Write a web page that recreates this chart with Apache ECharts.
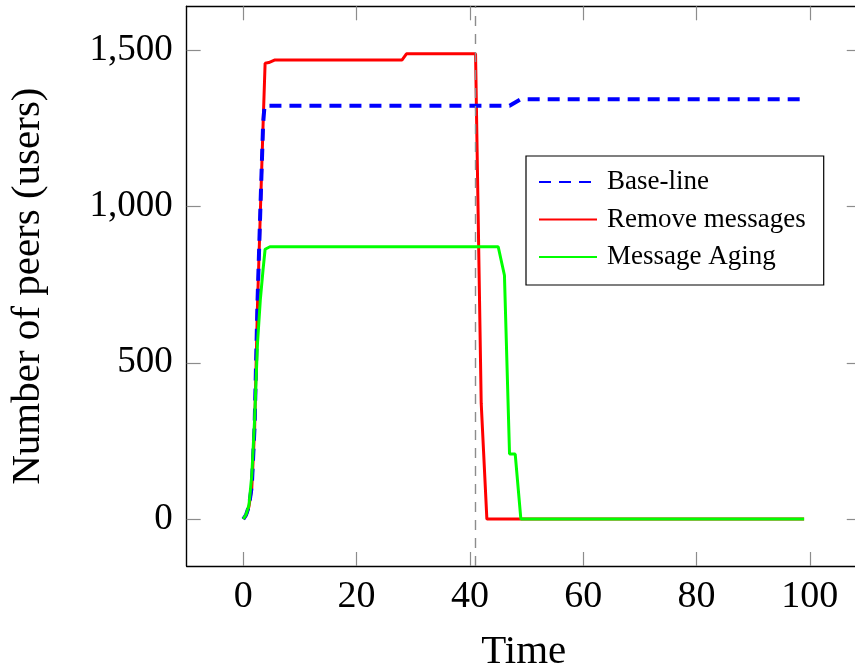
<!DOCTYPE html>
<html>
<head>
<meta charset="utf-8">
<script src="https://cdn.jsdelivr.net/npm/echarts@6/dist/echarts.min.js"></script>
<style>
  html, body { margin: 0; padding: 0; background: #fff; overflow: hidden; }
  #chart { width: 855px; height: 670px; }
</style>
</head>
<body>
<div id="chart"></div>
<script>
// Peer counts over time for three message-handling strategies
const baseTime   = [0, 0.5, 1, 1.5, 2, 2.5, 3, 3.5, 3.75, 47, 49, 99];
const baseValue  = [0, 14, 42, 105, 300, 690, 985, 1265, 1322, 1322, 1343, 1343];

const removeTime  = [0, 0.5, 1, 1.5, 2, 2.5, 3, 3.5, 3.85, 4.5, 5.5, 28, 28.8, 41, 42, 43, 99];
const removeValue = [0, 12, 40, 100, 290, 680, 975, 1265, 1458, 1460, 1468, 1468, 1488, 1488, 370, 0, 0];

const agingTime  = [0, 0.5, 1, 1.5, 2, 2.5, 3, 3.5, 3.85, 4.7, 45, 46.1, 47, 48, 49, 99];
const agingValue = [0, 15, 45, 140, 320, 560, 700, 800, 863, 871, 871, 780, 208, 208, 0, 0];

const seriesNames = ['Base-line', 'Remove messages', 'Message Aging'];
const xTicks = [0, 20, 40, 60, 80, 100];
const yTicks = [0, 500, 1000, 1500];
const cutoffTime = 41;

const pairs = (xs, ys) => xs.map((x, i) => [x, ys[i]]);

const FONT = "'Liberation Serif', 'Times New Roman', serif";
const tickStyle = { show: true, inside: true, length: 14, lineStyle: { color: '#8c8c8c', width: 1.2 } };
const frameLine = { show: true, onZero: false, lineStyle: { color: '#000', width: 1.4 } };

const chart = echarts.init(document.getElementById('chart'), null, { renderer: 'canvas' });

chart.setOption({
  animation: false,
  backgroundColor: '#fff',
  // the plot box runs a few pixels past the right edge of the canvas
  grid: {
    left: 186.65, width: 674.1, top: 6.3, height: 559.7,
    containLabel: false, outerBoundsMode: 'none'
  },
  legend: {
    orient: 'vertical',
    left: 526,
    top: 156,
    data: seriesNames,
    itemWidth: 58,
    itemHeight: 27,
    itemGap: 10.5,
    padding: [12.5, 18, 14.5, 12],
    borderColor: '#000',
    borderWidth: 1.2,
    backgroundColor: '#fff',
    itemStyle: { opacity: 0 },
    textStyle: { fontFamily: FONT, fontSize: 27, color: '#000', lineHeight: 27, padding: [0, 0, 0, 5] }
  },
  xAxis: [
    {
      type: 'value', min: -10, max: 109, position: 'bottom',
      name: 'Time', nameLocation: 'middle', nameGap: 66,
      nameTextStyle: { fontFamily: FONT, fontSize: 41, color: '#000' },
      axisLine: frameLine,
      axisTick: Object.assign({ customValues: xTicks }, tickStyle),
      axisLabel: { customValues: xTicks, margin: 12, fontFamily: FONT, fontSize: 38, color: '#000' },
      splitLine: { show: false }
    },
    {
      type: 'value', min: -10, max: 109, position: 'top',
      axisLine: frameLine,
      axisTick: Object.assign({ customValues: xTicks }, tickStyle),
      axisLabel: { show: false },
      splitLine: { show: false }
    }
  ],
  yAxis: [
    {
      type: 'value', min: -150, max: 1640, position: 'left',
      name: 'Number of peers (users)', nameLocation: 'middle', nameGap: 138,
      nameTextStyle: { fontFamily: FONT, fontSize: 41, color: '#000' },
      axisLine: frameLine,
      axisTick: Object.assign({ customValues: yTicks }, tickStyle),
      axisLabel: {
        customValues: yTicks, margin: 14, fontFamily: FONT, fontSize: 37, color: '#000',
        formatter: v => v.toLocaleString('en-US')
      },
      splitLine: { show: false }
    },
    {
      type: 'value', min: -150, max: 1640, position: 'right',
      axisLine: frameLine,
      axisTick: Object.assign({ customValues: yTicks }, tickStyle),
      axisLabel: { show: false },
      splitLine: { show: false }
    }
  ],
  series: [
    {
      name: seriesNames[0], type: 'line', data: pairs(baseTime, baseValue),
      symbol: 'none', z: 3,
      lineStyle: { color: '#0000ff', width: 4, type: [12, 8], cap: 'butt' },
      itemStyle: { color: '#0000ff' }
    },
    {
      name: seriesNames[1], type: 'line', data: pairs(removeTime, removeValue),
      symbol: 'none', z: 2,
      lineStyle: { color: '#ff0000', width: 3 },
      itemStyle: { color: '#ff0000' },
      markLine: {
        silent: true, symbol: 'none', label: { show: false },
        lineStyle: { color: '#8c8c8c', width: 1.4, type: [10, 8] },
        data: [{ xAxis: cutoffTime }]
      }
    },
    {
      name: seriesNames[2], type: 'line', data: pairs(agingTime, agingValue),
      symbol: 'none', z: 4,
      lineStyle: { color: '#00ff00', width: 3 },
      itemStyle: { color: '#00ff00' }
    }
  ]
});
</script>
</body>
</html>
